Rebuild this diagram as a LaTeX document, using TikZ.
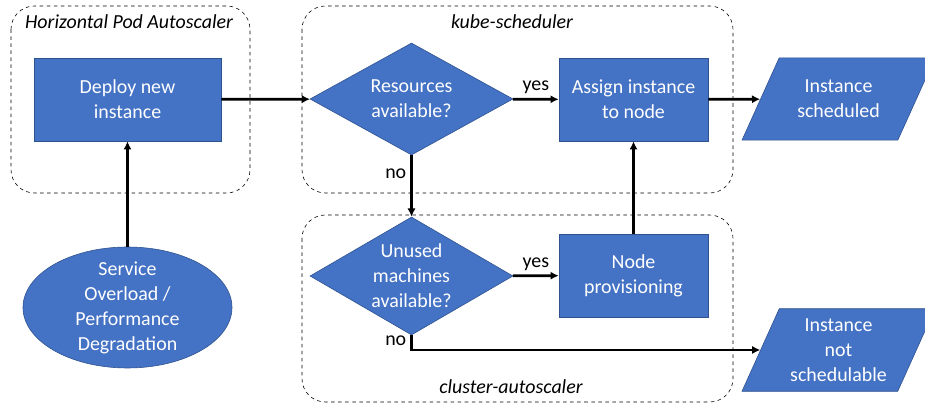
\documentclass[tikz,border=0pt]{standalone}
\usepackage{fontspec}
\setmainfont{Carlito}
\usetikzlibrary{shapes.geometric, arrows.meta}
\definecolor{boxblue}{HTML}{4472C4}
\definecolor{boxedge}{HTML}{2F528F}

\begin{document}
\begin{tikzpicture}[x=0.03cm, y=-0.03cm,
    every node/.style={font=\fontsize{17}{21.3}\selectfont},
    block/.style={rectangle, fill=boxblue, draw=boxedge, line width=0.5pt, text=white, align=center, inner sep=0pt, minimum height=2.49cm},
    decision/.style={diamond, fill=boxblue, draw=boxedge, line width=0.5pt, text=white, align=center, inner sep=0pt, aspect=1.75, minimum width=6.09cm},
    io/.style={trapezium, trapezium left angle=65.7, trapezium right angle=114.3, trapezium stretches body, fill=boxblue, draw=boxedge, line width=0.5pt, text=white, align=center, inner xsep=0pt, minimum width=5.79cm},
    group/.style={draw, dashed, rounded corners=0.7cm, line width=0.5pt},
    grouptitle/.style={font=\fontsize{17}{21.3}\selectfont\itshape},
    flow/.style={-{Latex[length=7pt,width=7pt]}, line width=2.3pt}]
    \useasboundingbox (0,0) rectangle (925,405);

    % dashed groups
    \draw[group] (11,6) rectangle (250,193);
    \draw[group] (302,6) rectangle (733,193);
    \draw[group] (302,215) rectangle (733,402);
    \node[grouptitle] (hpa) at (129,22) {Horizontal Pod Autoscaler};
    \node[grouptitle] (ks) at (512,22) {kube-scheduler};
    \node[grouptitle] (ca) at (511,387) {cluster-autoscaler};

    % steps
    \node[block, minimum width=5.61cm] (deploy) at (127.5,99.5) {Deploy new\\instance};
    \node[ellipse, fill=boxblue, draw=boxedge, line width=0.5pt, text=white, align=center, inner xsep=0pt, inner ysep=-4pt, minimum width=6.27cm, minimum height=3.63cm] (load) at (127.5,307.5) {Service\\Overload /\\Performance\\Degradation};
    \node[decision, minimum height=3.36cm] (res) at (411.5,99) {Resources\\available?};
    \node[block, minimum width=4.47cm] (assign) at (633.5,99.5) {Assign instance\\to node};
    \node[io, inner ysep=19pt] (sched) at (838.5,99) {Instance\\scheduled};
    \node[decision, minimum height=3.54cm] (unused) at (411.5,276) {Unused\\machines\\available?};
    \node[block, minimum width=4.47cm] (prov) at (633.5,275.5) {Node\\provisioning};
    \node[io, inner ysep=8.4pt] (unsched) at (838.5,350) {Instance\\not\\schedulable};

    % flow
    \draw[flow] (load) -- (deploy);
    \draw[flow] (deploy) -- (res);
    \draw[flow] (res) -- node[above] {yes} (assign);
    \draw[flow] (assign) -- (sched);
    \draw[flow] (res) -- node[left, pos=0.3] {no} (unused);
    \draw[flow] (unused) -- node[above] {yes} (prov);
    \draw[flow] (prov) -- (assign);
    \draw[flow] (unused.south) |- node[left, pos=0.2] {no} (unsched);
\end{tikzpicture}
\end{document}
